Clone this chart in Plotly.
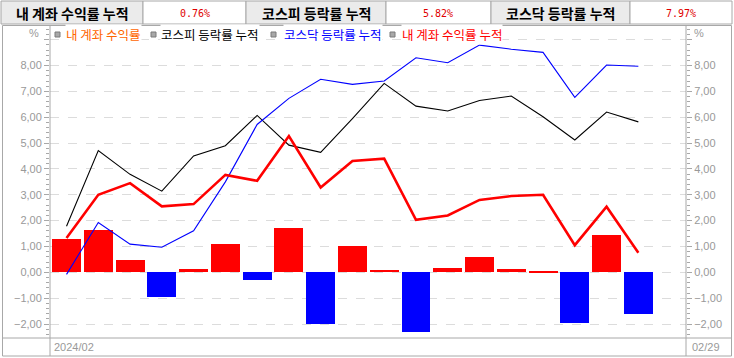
import plotly.graph_objects as go

# ---------------- data ----------------
dates = ["02/01", "02/02", "02/05", "02/06", "02/07", "02/08", "02/13", "02/14", "02/15",
         "02/16", "02/19", "02/20", "02/21", "02/22", "02/23", "02/26", "02/27", "02/28", "02/29"]
daily_return = [1.30, 1.64, 0.48, -0.94, 0.14, 1.10, -0.28, 1.72, -1.98,
                1.03, 0.10, -2.30, 0.17, 0.60, 0.14, 0.06, -1.96, 1.44, -1.61]
cum_account = [1.33, 3.00, 3.45, 2.55, 2.64, 3.77, 3.54, 5.27, 3.28,
               4.31, 4.40, 2.03, 2.20, 2.80, 2.95, 3.00, 1.05, 2.54, 0.76]
cum_kospi = [1.78, 4.71, 3.79, 3.14, 4.50, 4.90, 6.07, 4.92, 4.64,
             5.95, 7.31, 6.43, 6.24, 6.65, 6.82, 6.02, 5.12, 6.20, 5.82]
cum_kosdaq = [-0.08, 1.93, 1.09, 0.97, 1.61, 3.50, 5.72, 6.73, 7.47,
              7.27, 7.40, 8.30, 8.11, 8.79, 8.63, 8.51, 6.77, 8.02, 7.97]

header_labels = ["내 계좌 수익률 누적", "코스피 등락률 누적", "코스닥 등락률 누적"]
header_values = ["0.76%", "5.82%", "7.97%"]
legend_labels = ["내 계좌 수익률", "코스피 등락률 누적", "코스닥 등락률 누적", "내 계좌 수익률 누적"]
y_tick_vals = [-2, -1, 0, 1, 2, 3, 4, 5, 6, 7, 8, 9]
y_tick_text = ["−2,00", "−1,00", "0,00", "1,00", "2,00", "3,00", "4,00", "5,00",
               "6,00", "7,00", "8,00", ""]
period_label = "2024/02"
last_label = "02/29"

# ---------------- geometry ----------------
W, H = 734, 358
L, R, T, B = 50, 48, 27, 20
PW, PH = W - L - R, H - T - B
YMIN, YMAX = -2.54, 9.49


def px(x):
    return (x - L) / PW


def py(y):
    return (H - B - y) / PH


GRAY_LINE = "#A8A8A8"
TICK_GRAY = "#999999"

fig = go.Figure()

bar_colors = ["#FF0000" if v >= 0 else "#0000FF" for v in daily_return]
fig.add_trace(go.Bar(x=dates, y=daily_return, marker=dict(color=bar_colors, line=dict(width=0)),
                     width=0.91, hoverinfo="skip"))
fig.add_trace(go.Scatter(x=dates, y=cum_kospi, mode="lines", line=dict(color="#000000", width=1.1),
                         hoverinfo="skip"))
fig.add_trace(go.Scatter(x=dates, y=cum_kosdaq, mode="lines", line=dict(color="#0000FF", width=1.1),
                         hoverinfo="skip"))
fig.add_trace(go.Scatter(x=dates, y=cum_account, mode="lines", line=dict(color="#FF0000", width=2.6),
                         hoverinfo="skip"))
# transparent copy so the right axis is rendered
fig.add_trace(go.Scatter(x=dates, y=cum_kospi, mode="lines", yaxis="y2", opacity=0,
                         line=dict(width=0), hoverinfo="skip"))

yaxis_common = dict(
    range=[YMIN, YMAX], tickmode="array", tickvals=y_tick_vals, ticktext=y_tick_text,
    ticks="outside", ticklen=5, tickcolor=GRAY_LINE, tickwidth=1,
    tickfont=dict(family="Liberation Sans", size=11, color=TICK_GRAY),
    showline=False, zeroline=False, fixedrange=True,
    minor=dict(ticks="outside", ticklen=3, tickcolor=GRAY_LINE, dtick=0.2, tick0=0, showgrid=False),
)

fig.update_layout(
    width=W, height=H,
    margin=dict(l=L, r=R, t=T, b=B, pad=0),
    paper_bgcolor="white", plot_bgcolor="white",
    showlegend=False, bargap=0,
    xaxis=dict(type="category", range=[-0.52, 19.5], showticklabels=False, showgrid=False,
               showline=False, zeroline=False, ticks="", fixedrange=True),
    yaxis=dict(**yaxis_common, showgrid=True, gridcolor="#DCDCDC", griddash="dash", gridwidth=1),
    yaxis2=dict(**yaxis_common, overlaying="y", side="right", showgrid=False),
)

shapes = []
annotations = []

# header cells
cells = [(1, 143, True), (143, 246, False), (246, 386, True), (386, 491, False),
         (491, 630, True), (630, 732, False)]
for i, (x0, x1, is_label) in enumerate(cells):
    shapes.append(dict(type="rect", xref="paper", yref="paper", x0=px(x0), x1=px(x1),
                       y0=py(24), y1=py(1), fillcolor="#EBEBEB" if is_label else "white",
                       line=dict(color=GRAY_LINE, width=1), layer="below"))
    cx = (x0 + x1) / 2
    if is_label:
        annotations.append(dict(xref="paper", yref="paper", x=px(cx), y=py(13), showarrow=False,
                                text="<b>" + header_labels[i // 2] + "</b>", xanchor="center",
                                yanchor="middle",
                                font=dict(family="Noto Sans CJK KR", size=14, color="#000000")))
    else:
        annotations.append(dict(xref="paper", yref="paper", x=px(cx), y=py(13), showarrow=False,
                                text=header_values[i // 2], xanchor="center", yanchor="middle",
                                font=dict(family="DejaVu Sans Mono", size=10, color="#E00000")))

# chart panel borders
line_style = dict(color=GRAY_LINE, width=1)
shapes.append(dict(type="rect", xref="paper", yref="paper", x0=px(2.5), x1=px(731.5),
                   y0=py(356), y1=py(25.5), line=line_style, layer="above"))
for xv in (50, 686):
    shapes.append(dict(type="line", xref="paper", yref="paper", x0=px(xv), x1=px(xv),
                       y0=py(356), y1=py(25.5), line=line_style, layer="above"))
shapes.append(dict(type="line", xref="paper", yref="paper", x0=px(2.5), x1=px(731.5),
                   y0=py(338), y1=py(338), line=line_style, layer="above"))

# legend
legend_pos = [(55, 65, "#FF6600"), (151, 160, "#000000"), (271, 283, "#0000FF"), (390, 401, "#FF0000")]
for (sx, tx, col), lab in zip(legend_pos, legend_labels):
    shapes.append(dict(type="rect", xref="paper", yref="paper", x0=px(sx), x1=px(sx + 5),
                       y0=py(37), y1=py(32), fillcolor="#A8A8A8",
                       line=dict(color="#7A7A7A", width=1), layer="above"))
    annotations.append(dict(xref="paper", yref="paper", x=px(tx), y=py(34.5), showarrow=False,
                            text=lab, xanchor="left", yanchor="middle", bgcolor="white",
                            borderpad=0,
                            font=dict(family="Noto Sans CJK KR", size=12.5, color=col)))

# % labels
for xv, anchor in ((41, "right"), (692, "left")):
    annotations.append(dict(xref="paper", yref="paper", x=px(xv), y=py(33), showarrow=False,
                            text="%", xanchor=anchor, yanchor="middle",
                            font=dict(family="Liberation Sans", size=11, color=TICK_GRAY)))

# bottom labels
annotations.append(dict(xref="paper", yref="paper", x=px(52), y=py(347), showarrow=False,
                        text=period_label, xanchor="left", yanchor="middle",
                        font=dict(family="Liberation Sans", size=11, color=TICK_GRAY)))
annotations.append(dict(xref="paper", yref="paper", x=px(722), y=py(347), showarrow=False,
                        text=last_label, xanchor="right", yanchor="middle",
                        font=dict(family="Liberation Sans", size=11, color=TICK_GRAY)))

fig.update_layout(shapes=shapes, annotations=annotations)
fig.write_html("out.html")
